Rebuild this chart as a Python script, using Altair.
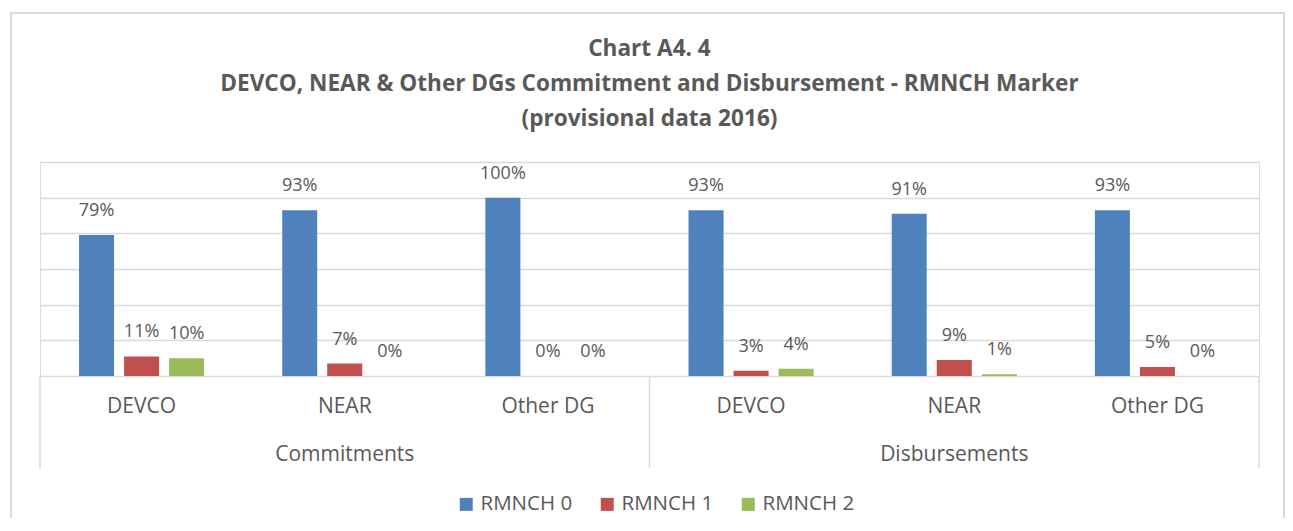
import altair as alt
import pandas as pd

# ---- data ----
groups = ["Commitments", "Commitments", "Commitments",
          "Disbursements", "Disbursements", "Disbursements"]
dgs = ["DEVCO", "NEAR", "Other DG", "DEVCO", "NEAR", "Other DG"]
series = ["RMNCH 0", "RMNCH 1", "RMNCH 2"]
rmnch0 = [79, 93, 100, 93, 91, 93]
rmnch1 = [11, 7, 0, 3, 9, 5]
rmnch2 = [10, 0, 0, 4, 1, 0]
colors = ["#4F81BD", "#C0504D", "#9BBB59"]
title_lines = ["Chart A4. 4",
               "DEVCO, NEAR & Other DGs Commitment and Disbursement - RMNCH Marker",
               "(provisional data 2016)"]
grid_values = [0, 20, 40, 60, 80, 100, 120]

cats = [f"{g}|{d}" for g, d in zip(groups, dgs)]
rows = []
for s, vals in zip(series, [rmnch0, rmnch1, rmnch2]):
    for g, d, c, v in zip(groups, dgs, cats, vals):
        rows.append({"cat": c, "group": g, "dg": d, "series": s, "value": v})
df = pd.DataFrame(rows)

# outer group labels: placed under the middle category of each group
grp_df = pd.DataFrame({"cat": [cats[1], cats[4]], "label": [groups[0], groups[3]]})
# separators: start of each group, and end of the last group
start_df = pd.DataFrame({"cat": [cats[0], cats[3]]})
end_df = pd.DataFrame({"cat": [cats[5]]})

FONT = "Open Sans"
TXT = "#595959"
GRID = "#D9D9D9"
W, H = 1219, 214

xscale = alt.Scale(domain=cats, paddingInner=0, paddingOuter=0)
x_enc = alt.X("cat:N", scale=xscale, sort=cats,
              axis=alt.Axis(title=None, labelExpr="split(datum.label, '|')[1]",
                            labelFont=FONT, labelFontSize=21, labelColor=TXT,
                            labelPadding=19, ticks=False, domain=False, labelAngle=0,
                            grid=False))
xoff = alt.XOffset("series:N", sort=series,
                   scale=alt.Scale(domain=series, paddingInner=0.2222, paddingOuter=0.8667))
y_axis = alt.Axis(title=None, values=grid_values, labels=False, ticks=False,
                  domain=False, grid=True, gridColor=GRID, gridWidth=1.5)
y_enc = alt.Y("value:Q", scale=alt.Scale(domain=[0, 120], nice=False), axis=y_axis)

base = alt.Chart(df)

bars = base.mark_bar().encode(
    x=x_enc,
    xOffset=xoff,
    y=y_enc,
    color=alt.Color("series:N", sort=series,
                    scale=alt.Scale(domain=series, range=colors),
                    legend=alt.Legend(orient="none", legendX=416, legendY=332,
                                      direction="horizontal", title=None,
                                      symbolType="square", symbolSize=169,
                                      symbolStrokeWidth=0,
                                      labelFont=FONT, labelFontSize=20.5, labelColor=TXT,
                                      columnPadding=24, labelOffset=4, padding=0)),
)

labels = base.transform_calculate(
    lbl="datum.value + '%'"
).mark_text(font=FONT, fontSize=18, color=TXT, baseline="middle", dy=-24).encode(
    x=alt.X("cat:N", scale=xscale, sort=cats),
    xOffset=xoff,
    y=y_enc,
    text="lbl:N",
)

grp_text = alt.Chart(grp_df).mark_text(font=FONT, fontSize=21, color=TXT,
                                       baseline="middle").encode(
    x=alt.X("cat:N", scale=xscale, sort=cats),
    y=alt.value(H + 79),
    text="label:N",
)

sep_start = alt.Chart(start_df).mark_rule(color=GRID, strokeWidth=1.5).encode(
    x=alt.X("cat:N", scale=xscale, sort=cats, bandPosition=0),
    y=alt.value(H),
    y2=alt.value(H + 92),
)
sep_end = alt.Chart(end_df).mark_rule(color=GRID, strokeWidth=1.5).encode(
    x=alt.X("cat:N", scale=xscale, sort=cats, bandPosition=1),
    y=alt.value(H),
    y2=alt.value(H + 92),
)

border = alt.Chart(alt.Data(values=[{"b": 1}])).mark_rect(
    fill="transparent", stroke=GRID, strokeWidth=2).encode(
    x=alt.value(-29), x2=alt.value(1244), y=alt.value(-149), y2=alt.value(H + 160),
)

chart = alt.layer(border, bars, labels, grp_text, sep_start, sep_end).properties(
    width=W, height=H,
    title=alt.Title(text=title_lines, font=FONT, fontSize=22.6, fontWeight="bold",
                    color=TXT, lineHeight=35, anchor="middle", frame="group",
                    offset=-119),
    autosize=alt.AutoSizeParams(type="none"),
    padding={"left": 32, "top": 154, "right": 26, "bottom": 142},
).configure_view(strokeWidth=0, stroke="transparent").configure(background="white")

chart.save("out.html", embed_options={"renderer": "svg", "actions": False})
